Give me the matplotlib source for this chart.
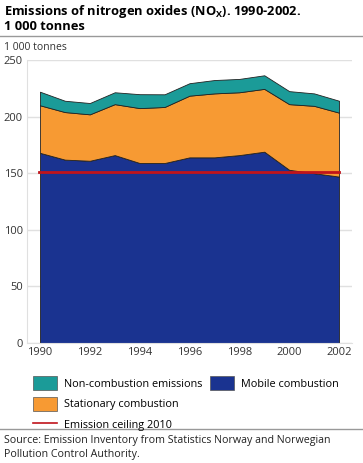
import matplotlib
matplotlib.use('Agg')
from matplotlib import pyplot as plt
from matplotlib.patches import Patch
from matplotlib.lines import Line2D

plt.rcParams['font.family'] = ['Open Sans', 'DejaVu Sans']

years = [1990, 1991, 1992, 1993, 1994, 1995, 1996, 1997, 1998, 1999, 2000, 2001, 2002]
mobile = [168, 162, 161, 166, 159, 159, 164, 164, 166, 169, 153, 150, 147]
stationary = [42, 42, 41, 45, 48.5, 49.5, 54.5, 56.5, 55.5, 55.5, 58, 59.5, 56.5]
non_combustion = [12, 10, 10, 10.5, 12.3, 11.2, 11, 11.8, 11.8, 12, 11.5, 11, 10.5]
ceiling = 151

c_blue = '#1a3390'
c_orange = '#f79a33'
c_teal = '#1b9b98'
c_red = '#c0141b'
grey = '#e0e0e0'

fig = plt.figure(figsize=(3.63, 4.63), dpi=100)
ax = fig.add_axes([27 / 363, 1 - 343 / 463, 325 / 363, 283 / 463])

ax.stackplot(years, mobile, stationary, non_combustion,
             colors=[c_blue, c_orange, c_teal],
             edgecolor='#222222', linewidth=0.6)
ax.axhline(ceiling, color=c_red, linewidth=2, xmin=0.5 / 13.04, xmax=12.5 / 13.04)

ax.set_xlim(1989.48, 2002.52)
ax.set_ylim(0, 250)
ax.set_yticks([0, 50, 100, 150, 200, 250])
ax.set_xticks(range(1990, 2003, 2))
ax.grid(axis='y', color=grey, linewidth=1)
ax.set_axisbelow(True)
for s in ['top', 'right']:
    ax.spines[s].set_visible(False)
ax.spines['left'].set_color(grey)
ax.spines['bottom'].set_color(grey)
ax.tick_params(axis='y', length=0, labelsize=8, colors='#333333', pad=3)
ax.tick_params(axis='x', length=0, labelsize=8, colors='#333333', pad=3)

fig.text(4 / 363, 1 - 12 / 463, 'Emissions of nitrogen oxides (NO$_\\mathregular{X}$). 1990-2002.',
         fontsize=9.3, fontweight='bold', va='center')
fig.text(4 / 363, 1 - 27 / 463, '1 000 tonnes', fontsize=9.3, fontweight='bold', va='center')
fig.add_artist(Line2D([0, 1], [1 - 36 / 463] * 2, color='#999999', linewidth=1))
fig.text(4 / 363, 1 - 47 / 463, '1 000 tonnes', fontsize=7.5, color='#333333', va='center')

h1 = [Patch(facecolor=c_teal, edgecolor='#555555', linewidth=0.5, label='Non-combustion emissions'),
      Patch(facecolor=c_orange, edgecolor='#555555', linewidth=0.5, label='Stationary combustion'),
      Line2D([0], [0], color=c_red, linewidth=1.2, label='Emission ceiling 2010')]
h2 = [Patch(facecolor=c_blue, edgecolor='#555555', linewidth=0.5, label='Mobile combustion')]
fig.legend(handles=h1, loc='upper left', bbox_to_anchor=(28 / 363, 1 - 371 / 463),
           frameon=False, fontsize=7.8, handlelength=2.2, handleheight=1.6,
           labelspacing=0.6, borderpad=0, handletextpad=0.6)
fig.legend(handles=h2, loc='upper left', bbox_to_anchor=(205 / 363, 1 - 371 / 463),
           frameon=False, fontsize=7.8, handlelength=2.2, handleheight=1.6,
           borderpad=0, handletextpad=0.6)

fig.add_artist(Line2D([0, 1], [1 - 429 / 463] * 2, color='#999999', linewidth=1))
fig.text(4 / 363, 1 - 441 / 463, 'Source: Emission Inventory from Statistics Norway and Norwegian',
         fontsize=7.7, color='#222222', va='center')
fig.text(4 / 363, 1 - 455 / 463, 'Pollution Control Authority.',
         fontsize=7.7, color='#222222', va='center')

plt.savefig('out.png', dpi=100)
